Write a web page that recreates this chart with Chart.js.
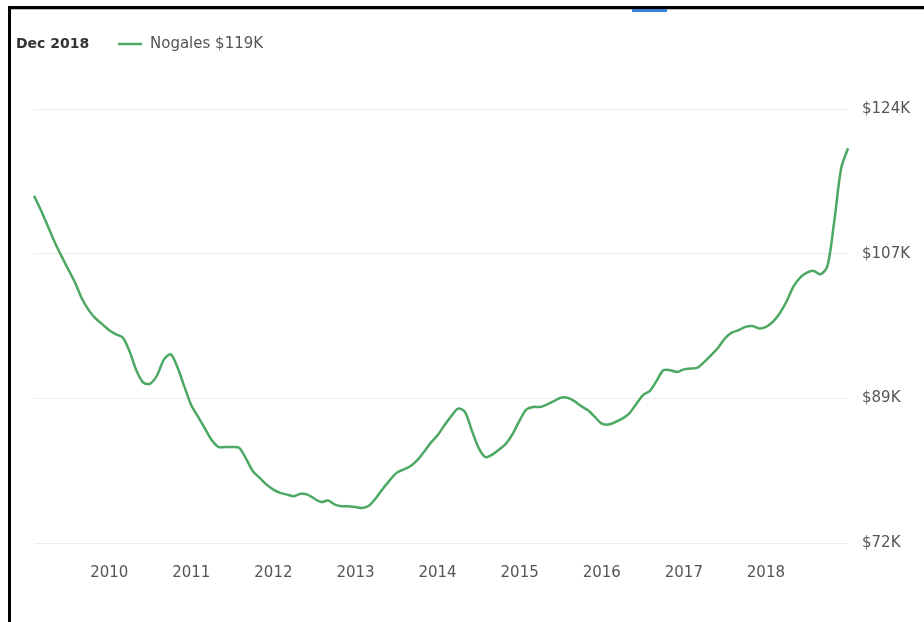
<!DOCTYPE html>
<html>
<head>
<meta charset="utf-8">
<script src="https://cdn.jsdelivr.net/npm/chart.js@4"></script>
<style>
  html, body { margin: 0; padding: 0; background: #fff; }
  #wrap { position: relative; width: 924px; height: 622px; overflow: hidden; }
  #wrap canvas { position: absolute; left: 0; top: 0; }
  .frameTop { position: absolute; left: 8px; top: 6px; width: 916px; height: 3px; background: #000; }
  .frameShadow { position: absolute; left: 11px; top: 9px; width: 913px; height: 1px; background: #bbb; }
  .frameLeft { position: absolute; left: 8px; top: 6px; width: 3px; height: 616px; background: #000; }
  .blueMark { position: absolute; left: 632px; top: 9px; width: 35px; height: 3px; background: #3b7fd9; }
</style>
</head>
<body>
<div id="wrap">
  <canvas id="c" width="924" height="622"></canvas>
  <div class="frameTop"></div>
  <div class="frameShadow"></div>
  <div class="frameLeft"></div>
  <div class="blueMark"></div>
</div>
<script>
// ---- data ----
const years = [2009, 2010, 2011, 2012, 2013, 2014, 2015, 2016, 2017, 2018];
const monthNames = ['Jan','Feb','Mar','Apr','May','Jun','Jul','Aug','Sep','Oct','Nov','Dec'];
const seriesName = 'Nogales';
// median value, thousands of dollars, monthly Jan 2009 - Dec 2018
const values = [
  113.6, 111.9, 110.0, 108.1, 106.4, 104.8, 103.2, 101.3, 99.9, 98.9, 98.2, 97.5,
  97.0, 96.6, 94.9, 92.6, 91.2, 91.1, 92.1, 94.0, 94.6, 93.0, 90.7, 88.5,
  87.1, 85.7, 84.3, 83.5, 83.5, 83.5, 83.4, 82.1, 80.6, 79.8, 79.0, 78.4,
  78.0, 77.8, 77.6, 77.9, 77.8, 77.3, 76.9, 77.1, 76.6, 76.4, 76.4, 76.3,
  76.2, 76.5, 77.4, 78.5, 79.5, 80.4, 80.8, 81.2, 81.9, 82.9, 84.0, 84.9,
  86.1, 87.2, 88.1, 87.7, 85.5, 83.4, 82.3, 82.6, 83.2, 83.9, 85.1, 86.7,
  88.0, 88.3, 88.3, 88.6, 89.0, 89.4, 89.4, 89.0, 88.4, 87.9, 87.1, 86.3,
  86.2, 86.5, 86.9, 87.5, 88.6, 89.7, 90.2, 91.4, 92.7, 92.7, 92.5, 92.8,
  92.9, 93.0, 93.7, 94.5, 95.4, 96.5, 97.2, 97.5, 97.9, 98.0, 97.7, 97.9,
  98.5, 99.5, 100.9, 102.7, 103.8, 104.4, 104.6, 104.2, 105.2, 110.6, 116.9, 119.3
];
const xTickLabels = ['2010','2011','2012','2013','2014','2015','2016','2017','2018'];
const yTickValues = [72, 89.333, 106.667, 124];

const categories = [];
years.forEach(y => monthNames.forEach(m => categories.push(m + ' ' + y)));

const lineColor = '#4ca862';
const fontFamily = '"DejaVu Sans", sans-serif';

const headerPlugin = {
  id: 'header',
  afterDraw(chart) {
    const ctx = chart.ctx;
    ctx.save();
    ctx.textBaseline = 'middle';
    ctx.font = 'bold 14px ' + fontFamily;
    ctx.fillStyle = '#333';
    ctx.fillText(categories[categories.length - 1], 16, 44);
    ctx.strokeStyle = lineColor;
    ctx.lineWidth = 2.5;
    ctx.beginPath();
    ctx.moveTo(118, 44);
    ctx.lineTo(142, 44);
    ctx.stroke();
    ctx.font = '15px ' + fontFamily;
    ctx.fillStyle = '#555';
    ctx.fillText(seriesName + ' $' + Math.round(values[values.length - 1]) + 'K', 150, 44);
    ctx.restore();
  }
};

new Chart(document.getElementById('c'), {
  type: 'line',
  data: {
    labels: categories,
    datasets: [{
      label: seriesName,
      data: values,
      borderColor: lineColor,
      borderWidth: 2.5,
      pointRadius: 0,
      tension: 0.3,
      fill: false
    }]
  },
  options: {
    responsive: false,
    animation: false,
    layout: { padding: { left: 34, top: 109, right: 0, bottom: 39 } },
    plugins: { legend: { display: false }, tooltip: { enabled: false } },
    scales: {
      x: {
        type: 'category',
        offset: false,
        grid: { display: false, drawTicks: false },
        border: { display: false },
        afterFit(scale) { scale.height = 40; },
        ticks: {
          autoSkip: false,
          maxRotation: 0,
          padding: 21,
          color: '#555',
          font: { family: fontFamily, size: 15 },
          callback(value, index) {
            if (index % 12 === 11) {
              const k = (index - 11) / 12;
              return k < xTickLabels.length ? xTickLabels[k] : '';
            }
            return '';
          }
        }
      },
      y: {
        position: 'right',
        min: 72,
        max: 124,
        grid: { color: '#ececec', lineWidth: 1, drawTicks: false },
        border: { display: false },
        afterFit(scale) { scale.width = 76; },
        afterBuildTicks(scale) { scale.ticks = yTickValues.map(v => ({ value: v })); },
        ticks: {
          padding: 14,
          color: '#555',
          font: { family: fontFamily, size: 15 },
          callback(v) { return '$' + Math.round(v) + 'K'; }
        }
      }
    }
  },
  plugins: [headerPlugin]
});
</script>
</body>
</html>
